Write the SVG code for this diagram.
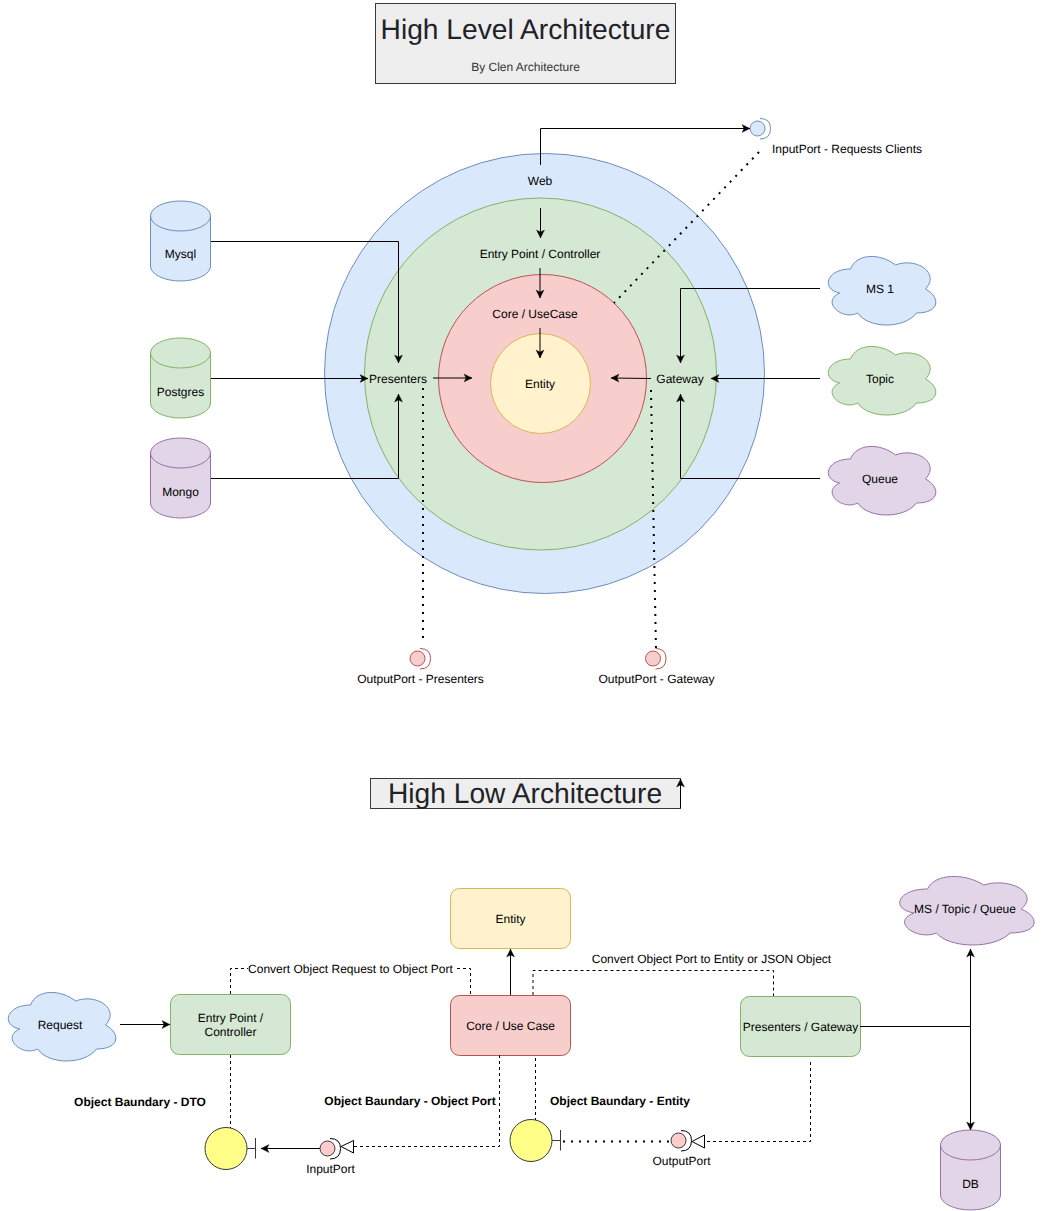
<svg xmlns="http://www.w3.org/2000/svg" width="1041" height="1211" viewBox="0 0 1041 1211">
<style>
text{font-family:"Liberation Sans",Arial,sans-serif;font-size:12px;fill:#000;text-anchor:middle;text-rendering:geometricPrecision}
.title{font-size:28.2px;fill:#1f2329}
.b{font-weight:bold}
.blue{fill:#dae8fc;stroke:#6c8ebf}
.green{fill:#d5e8d4;stroke:#82b366}
.red{fill:#f8cecc;stroke:#b85450}
.purple{fill:#e1d5e7;stroke:#9673a6}
.yellow{fill:#fff2cc;stroke:#d6b656}
.grey{fill:#eeeeee;stroke:#36393d}
.ball{fill:#ffff88;stroke:#36393d}
.pink{fill:#ffcccc;stroke:#36393d}
.arc{fill:none;stroke-width:1}
.line{fill:none;stroke:#000;stroke-width:1}
.stem{fill:none;stroke:#36393d;stroke-width:1}
.arrow{marker-end:url(#arr)}
.dash{stroke-dasharray:3 3}
.dot{stroke-width:2;stroke-dasharray:2 6}
.tri{fill:#fff;stroke:#000}
</style>
<defs>
<marker id="arr" markerUnits="userSpaceOnUse" markerWidth="12" markerHeight="12" refX="9" refY="5" orient="auto">
<path d="M1 1L9 5L1 9L3 5Z" fill="#000" stroke="#000" stroke-width="0.3"/>
</marker>
<path id="cloud" d="M30 20C6 20 0 40 19.200 44C0 52.800 21.600 72 37.200 64C48 80 84 80 96 64C120 64 120 48 105 40C120 24 96 8 75 16C60 4 36 4 30 20Z"/>
<path id="cloudw" d="M37.500 20C7.500 20 0 40 24 44C0 52.800 27 72 46.500 64C60 80 105 80 120 64C150 64 150 48 131.250 40C150 24 120 8 93.750 16C75 4 45 4 37.500 20Z"/>
<path id="cylbody" d="M0 15A30 15 0 0 1 60 15V65A30 15 0 0 1 0 65Z"/>
<path id="cyltop" d="M0 15A30 15 0 0 0 60 15" style="fill:none"/>
</defs>

<g id="title-high-level">
<rect class="grey" x="375.500" y="3.500" width="300" height="80"/>
<text class="title" x="525.500" y="39">High Level Architecture</text>
<text x="525.500" y="71" style="fill:#333">By Clen Architecture</text>
</g>

<g id="ring-web"><circle class="blue" cx="544.500" cy="373.500" r="220"/><text x="540" y="185">Web</text></g>
<g id="ring-entry"><circle class="green" cx="540.500" cy="374" r="176"/><text x="540" y="258">Entry Point / Controller</text></g>
<g id="ring-core"><circle class="red" cx="542.500" cy="378.500" r="104"/><text x="535" y="318">Core / UseCase</text></g>
<g id="ring-entity"><circle class="yellow" cx="540.500" cy="383.500" r="50"/><text x="540" y="388">Entity</text></g>
<g id="label-presenters"><text x="398" y="383">Presenters</text></g>
<g id="label-gateway"><text x="680" y="383">Gateway</text></g>

<g id="db-mysql" transform="translate(150.500 201)"><use href="#cylbody" class="blue"/><use href="#cyltop" class="blue"/><text x="30" y="57">Mysql</text></g>
<g id="db-postgres" transform="translate(150.500 338)"><use href="#cylbody" class="green"/><use href="#cyltop" class="green"/><text x="30" y="58">Postgres</text></g>
<g id="db-mongo" transform="translate(150.500 438)"><use href="#cylbody" class="purple"/><use href="#cyltop" class="purple"/><text x="30" y="58">Mongo</text></g>

<g id="cloud-ms1" transform="translate(820.500 249)"><use href="#cloud" class="blue"/><text x="59.500" y="44">MS 1</text></g>
<g id="cloud-topic" transform="translate(820.500 339)"><use href="#cloud" class="green"/><text x="59.500" y="44">Topic</text></g>
<g id="cloud-queue" transform="translate(820.500 439)"><use href="#cloud" class="purple"/><text x="59.500" y="44">Queue</text></g>

<g id="port-input-clients">
<circle class="blue" cx="757.500" cy="128.500" r="7.500"/>
<path class="arc" stroke="#6c8ebf" d="M760 118.500Q770.500 118.500 770.500 128.500Q770.500 139 760 139"/>
<text x="847" y="153">InputPort - Requests Clients</text>
</g>
<g id="port-output-presenters">
<circle class="red" cx="417.500" cy="658.500" r="7.500"/>
<path class="arc" stroke="#b85450" d="M420 648.500Q430.500 648.500 430.500 658.500Q430.500 669 420 669"/>
<text x="420.500" y="683">OutputPort - Presenters</text>
</g>
<g id="port-output-gateway">
<circle class="red" cx="653" cy="658.500" r="7.500"/>
<path class="arc" stroke="#b85450" d="M655.500 648.500Q666 648.500 666 658.500Q666 669 655.500 669"/>
<text x="656.500" y="683">OutputPort - Gateway</text>
</g>

<g id="title-high-low">
<rect class="grey" x="370.500" y="778.500" width="310" height="30"/>
<text class="title" x="525" y="803">High Low Architecture</text>
</g>

<g id="cloud-request" transform="translate(0.500 985)"><use href="#cloud" class="blue"/><text x="59.500" y="44">Request</text></g>
<g id="cloud-ms-topic-queue" transform="translate(890 869)"><use href="#cloudw" class="purple"/><text x="75" y="44">MS / Topic / Queue</text></g>

<g id="node-entry"><rect class="green" x="170.500" y="994.500" width="120" height="60" rx="9"/><text x="230.500" y="1022">Entry Point /</text><text x="230.500" y="1036">Controller</text></g>
<g id="node-entity"><rect class="yellow" x="450.500" y="888.500" width="120" height="60" rx="9"/><text x="510.500" y="923">Entity</text></g>
<g id="node-core"><rect class="red" x="450.500" y="995.500" width="120" height="60" rx="9"/><text x="510.500" y="1030">Core / Use Case</text></g>
<g id="node-presenters"><rect class="green" x="740.500" y="996.500" width="120" height="60" rx="9"/><text x="800.500" y="1031">Presenters / Gateway</text></g>
<g id="db-db" transform="translate(940.500 1130)"><use href="#cylbody" class="purple"/><use href="#cyltop" class="purple"/><text x="30" y="58">DB</text></g>

<g id="label-convert-request"><text x="350.500" y="973">Convert Object Request to Object Port</text></g>
<g id="label-convert-port"><text x="711.500" y="963">Convert Object Port to Entity or JSON Object</text></g>
<g id="label-boundary-dto"><text class="b" x="140" y="1106">Object Baundary - DTO</text></g>
<g id="label-boundary-port"><text class="b" x="410" y="1105">Object Baundary - Object Port</text></g>
<g id="label-boundary-entity"><text class="b" x="620" y="1105">Object Baundary - Entity</text></g>

<g id="boundary-dto">
<circle class="ball" cx="226" cy="1148.500" r="21"/>
<path class="stem" d="M247 1148.500H255.500M255.500 1138V1158.500"/>
</g>
<g id="boundary-entity">
<circle class="ball" cx="531" cy="1140.500" r="21"/>
<path class="stem" d="M552 1140.500H560.500M560.500 1130V1150.500"/>
</g>
<g id="port-input">
<circle class="pink" cx="327.500" cy="1148.500" r="7.500"/>
<path class="arc" stroke="#000" d="M330 1138.500Q340.500 1138.500 340.500 1148.500Q340.500 1159 330 1159"/>
<path class="tri" d="M341 1146.500L353.500 1140.500V1153Z"/>
<text x="330.500" y="1173">InputPort</text>
</g>
<g id="port-output">
<circle class="pink" cx="678.500" cy="1140.500" r="7.500"/>
<path class="arc" stroke="#000" d="M681 1130.500Q691.500 1130.500 691.500 1140.500Q691.500 1151 681 1151"/>
<path class="tri" d="M692 1141.500L704.500 1135V1148Z"/>
<text x="681.500" y="1165">OutputPort</text>
</g>

<g id="connectors">
<path class="line arrow" d="M540.500 165V128.500H750"/>
<path class="line arrow" d="M540.500 208V238"/>
<path class="line arrow" d="M540 268V298"/>
<path class="line arrow" d="M540 328V358"/>
<path class="line arrow" d="M211 241.500H398.500V363"/>
<path class="line arrow" d="M211 378.500H368"/>
<path class="line arrow" d="M211 478.500H398.500V394"/>
<path class="line arrow" d="M433 378H472"/>
<path class="line arrow" d="M651 378.500L611 378"/>
<path class="line arrow" d="M820 378.500H711"/>
<path class="line arrow" d="M820 288.500H680.500V363"/>
<path class="line arrow" d="M820 478.500H680.500V394"/>
<path class="line dot" d="M759 152L614 303"/>
<path class="line dot" d="M423 388V640"/>
<path class="line dot" d="M651 390L656 650"/>
<path class="line arrow" d="M680.500 808V779"/>
<path class="line arrow" d="M120 1024.500H170"/>
<path class="line arrow" d="M510.500 995V949"/>
<path class="line arrow" d="M860 1026.500H970.500V949"/>
<path class="line arrow" d="M970.500 1026.500V1130"/>
<path class="line dash" d="M230.500 994V968.500H248"/>
<path class="line dash" d="M457 968.500H470.500V995"/>
<path class="line dash" d="M533 995V970.500H773.500V996"/>
<path class="line dash" d="M230.500 1055V1128"/>
<path class="line dash" d="M535.500 1058V1120"/>
<path class="line dash" d="M354 1146.500H499.500V1053"/>
<path class="line dash" d="M707 1141.500H810.500V1060"/>
<path class="line arrow" d="M320 1148.500H261"/>
<path class="line dot" d="M563 1141.500H670"/>
</g>
</svg>
